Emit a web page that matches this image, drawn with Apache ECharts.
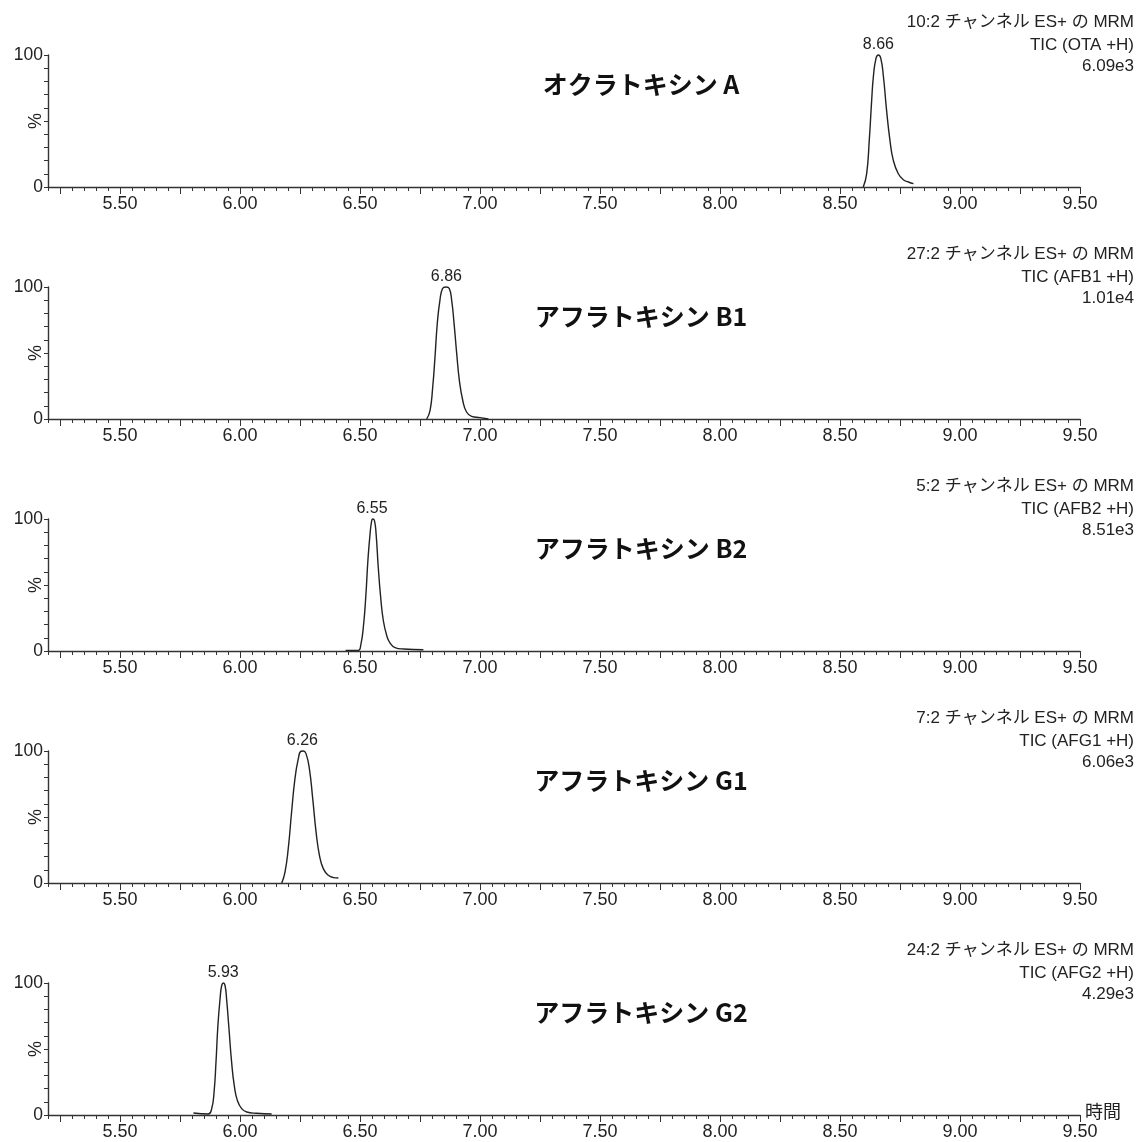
<!DOCTYPE html>
<html>
<head>
<meta charset="utf-8">
<script src="https://cdn.jsdelivr.net/npm/echarts@6/dist/echarts.min.js"></script>
<style>
html,body{margin:0;padding:0;background:#fff;}
#chart{width:1140px;height:1142px;}
</style>
</head>
<body>
<div id="chart"></div>
<script>
// ---- data ----
const compoundNames = ['オクラトキシン A', 'アフラトキシン B1', 'アフラトキシン B2', 'アフラトキシン G1', 'アフラトキシン G2'];
const channelLines = ['10:2 チャンネル ES+ の MRM', '27:2 チャンネル ES+ の MRM', '5:2 チャンネル ES+ の MRM', '7:2 チャンネル ES+ の MRM', '24:2 チャンネル ES+ の MRM'];
const ticLines = ['TIC (OTA +H)', 'TIC (AFB1 +H)', 'TIC (AFB2 +H)', 'TIC (AFG1 +H)', 'TIC (AFG2 +H)'];
const intensityLines = ['6.09e3', '1.01e4', '8.51e3', '6.06e3', '4.29e3'];
const peakTimes = [8.66, 6.86, 6.55, 6.26, 5.93];

const xLabelValues = [5.5, 6.0, 6.5, 7.0, 7.5, 8.0, 8.5, 9.0, 9.5];
const xMajorTickValues = [5.25, 5.5, 5.75, 6.0, 6.25, 6.5, 6.75, 7.0, 7.25, 7.5, 7.75, 8.0, 8.25, 8.5, 8.75, 9.0, 9.25, 9.5];
const yLabelValues = [0, 100];

// chromatogram traces: [time (min), relative intensity (%)]
const traceOTA = [[8.597,0],[8.611,10],[8.622,35.5],[8.632,65.8],[8.639,83.5],[8.650,97.5],[8.660,100],[8.670,97.5],[8.681,83.5],[8.694,58.2],[8.708,35.5],[8.722,20.3],[8.743,10],[8.764,5.5],[8.785,3.8],[8.806,2.5]];
const traceAFB1 = [[6.778,0],[6.792,6.6],[6.803,24.2],[6.8125,47],[6.822,72.3],[6.833,89.9],[6.844,98.8],[6.858,100],[6.872,98.8],[6.882,89.9],[6.892,72.3],[6.903,49.5],[6.914,29.3],[6.928,14.2],[6.944,5.3],[6.965,2],[7.000,1],[7.035,0]];
const traceAFB2 = [[6.44,0.5],[6.493,0.5],[6.503,4.3],[6.514,18.2],[6.524,40.9],[6.533,68.7],[6.542,88.9],[6.549,99],[6.553,100],[6.560,99],[6.567,88.9],[6.576,63.6],[6.586,40.9],[6.597,23.3],[6.611,11.9],[6.625,6.1],[6.646,2.6],[6.681,1.5],[6.764,1]];
const traceAFG1 = [[6.174,0],[6.1875,8.3],[6.201,26],[6.215,53.8],[6.229,79.1],[6.243,94.2],[6.254,99.8],[6.264,100],[6.275,98],[6.289,86.7],[6.303,63.9],[6.317,38.6],[6.331,21],[6.347,10.9],[6.368,5.8],[6.389,4.1],[6.410,3.8]];
const traceAFG2 = [[5.806,1.5],[5.868,0.8],[5.882,4.8],[5.892,17.4],[5.900,40.2],[5.908,68],[5.917,88.2],[5.924,98.3],[5.931,100],[5.9375,98.3],[5.944,88.2],[5.954,65.5],[5.965,40.2],[5.976,22.5],[5.989,11.1],[6.007,4.8],[6.028,2.3],[6.069,1.3],[6.132,0.8]];
const traces = [traceOTA, traceAFB1, traceAFB2, traceAFG1, traceAFG2];

// ---- layout / style ----
const FONT = '"Liberation Sans", Arial, "Noto Sans CJK JP", sans-serif';
const JFONT = '"Noto Sans CJK JP", "Liberation Sans", sans-serif';
const AX = '#333';
const TXT = '#222';
const X_MIN = 5.2, X_MAX = 9.5;
const PANEL_TOP = 55, PANEL_STEP = 232, PANEL_H = 132;

const grids = [], xAxes = [], yAxes = [], series = [], graphics = [];

for (let i = 0; i < 5; i++) {
  const top = PANEL_TOP + PANEL_STEP * i;
  grids.push({ left: 48, right: 60, top: top, height: PANEL_H, containLabel: false, outerBoundsMode: 'none' });

  // minor ticks axis (every 0.05)
  xAxes.push({
    type: 'value', gridIndex: i, position: 'bottom', min: X_MIN, max: X_MAX, interval: 0.05,
    axisLine: { show: true, onZero: false, lineStyle: { color: AX, width: 1.4 } },
    axisTick: { show: true, inside: false, length: 4, lineStyle: { color: AX, width: 1 } },
    axisLabel: { show: false }, splitLine: { show: false }
  });
  // major ticks + labels axis
  xAxes.push({
    type: 'value', gridIndex: i, position: 'bottom', min: X_MIN, max: X_MAX,
    axisLine: { show: false, onZero: false },
    axisTick: { show: true, inside: false, length: 7, customValues: xMajorTickValues, lineStyle: { color: AX, width: 1 } },
    axisLabel: { show: true, customValues: xLabelValues, margin: 8, fontSize: 18, color: TXT, fontFamily: FONT,
      formatter: v => Number(v).toFixed(2) },
    splitLine: { show: false }
  });
  yAxes.push({
    type: 'value', gridIndex: i, min: 0, max: 100, interval: 10,
    name: '%', nameLocation: 'middle', nameRotate: 90, nameGap: 3, nameMoveOverlap: false,
    nameTextStyle: { fontSize: 18, color: TXT, fontFamily: FONT },
    axisLine: { show: true, onZero: false, lineStyle: { color: AX, width: 1.4 } },
    axisTick: { show: true, inside: false, length: 4, lineStyle: { color: AX, width: 1 } },
    axisLabel: { show: true, customValues: yLabelValues, margin: 5, fontSize: 17.5, color: TXT, fontFamily: FONT },
    splitLine: { show: false }
  });

  series.push({
    type: 'line', xAxisIndex: 2 * i + 1, yAxisIndex: i,
    data: traces[i], showSymbol: false, smooth: 0.5,
    lineStyle: { color: TXT, width: 1.4 }, clip: false, silent: true
  });
  series.push({
    type: 'scatter', xAxisIndex: 2 * i + 1, yAxisIndex: i,
    data: [[peakTimes[i], 100]], symbolSize: 0, clip: false, silent: true,
    itemStyle: { opacity: 1 },
    label: { show: true, position: 'top', distance: 2, fontSize: 16, color: '#222', opacity: 1, fontFamily: FONT,
      formatter: () => peakTimes[i].toFixed(2) }
  });

  const y0 = PANEL_STEP * i;
  graphics.push({ type: 'text', x: 1134, y: y0 + 22, style: { text: channelLines[i], textAlign: 'right', textVerticalAlign: 'middle', fontSize: 17, fill: TXT, fontFamily: FONT } });
  graphics.push({ type: 'text', x: 1134, y: y0 + 45, style: { text: ticLines[i], textAlign: 'right', textVerticalAlign: 'middle', fontSize: 17, fill: TXT, fontFamily: FONT } });
  graphics.push({ type: 'text', x: 1134, y: y0 + 66, style: { text: intensityLines[i], textAlign: 'right', textVerticalAlign: 'middle', fontSize: 17, fill: TXT, fontFamily: FONT } });
  graphics.push({ type: 'text', x: 641, y: y0 + 84, style: { text: compoundNames[i], textAlign: 'center', textVerticalAlign: 'middle', fontSize: 25, fontWeight: 'bold', fill: '#111', fontFamily: JFONT } });
}
graphics.push({ type: 'text', x: 1085, y: PANEL_TOP + PANEL_STEP * 4 + PANEL_H - 4, style: { text: '時間', textAlign: 'left', textVerticalAlign: 'middle', fontSize: 18, fill: TXT, fontFamily: JFONT } });

const chart = echarts.init(document.getElementById('chart'), null, { renderer: 'canvas' });
chart.setOption({
  animation: false,
  backgroundColor: '#fff',
  grid: grids, xAxis: xAxes, yAxis: yAxes, series: series, graphic: graphics
});
</script>
</body>
</html>
